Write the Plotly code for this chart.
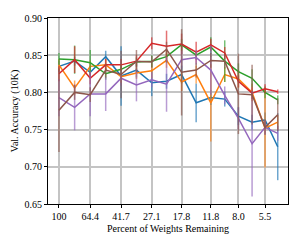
import plotly.graph_objects as go

pct_remaining = [100, 80.2, 64.4, 51.8, 41.7, 33.6, 27.1, 22.0, 17.8, 14.5, 11.8, 9.7, 8.0, 6.6, 5.5, 4.6]
tick_vals = [100, 64.4, 41.7, 27.1, 17.8, 11.8, 8.0, 5.5]
tick_text = ["100", "64.4", "41.7", "27.1", "17.8", "11.8", "8.0", "5.5"]

blue = [0.835, 0.842, 0.827, 0.848, 0.822, 0.830, 0.813, 0.815, 0.824, 0.786, 0.793, 0.791, 0.768, 0.760, 0.763, 0.727]
blue_err = [0.008, 0.006, 0.008, 0.008, 0.040, 0.010, 0.018, 0.010, 0.012, 0.026, 0.010, 0.010, 0.012, 0.010, 0.010, 0.045]
orange = [0.837, 0.806, 0.835, 0.837, 0.821, 0.826, 0.829, 0.843, 0.814, 0.824, 0.786, 0.824, 0.818, 0.800, 0.752, 0.760]
orange_err = [0.008, 0.010, 0.008, 0.008, 0.008, 0.008, 0.010, 0.010, 0.012, 0.012, 0.052, 0.010, 0.012, 0.012, 0.053, 0.010]
green = [0.845, 0.844, 0.840, 0.825, 0.831, 0.841, 0.842, 0.848, 0.864, 0.850, 0.861, 0.842, 0.828, 0.819, 0.800, 0.790]
green_err = [0.008, 0.019, 0.017, 0.008, 0.006, 0.006, 0.008, 0.008, 0.008, 0.006, 0.013, 0.028, 0.011, 0.012, 0.008, 0.006]
red = [0.825, 0.844, 0.819, 0.837, 0.837, 0.842, 0.866, 0.862, 0.865, 0.854, 0.864, 0.853, 0.815, 0.799, 0.805, 0.801]
red_err = [0.010, 0.018, 0.008, 0.008, 0.008, 0.008, 0.008, 0.021, 0.014, 0.014, 0.008, 0.008, 0.008, 0.008, 0.006, 0.003]
purple = [0.793, 0.780, 0.798, 0.798, 0.819, 0.810, 0.817, 0.811, 0.844, 0.847, 0.830, 0.796, 0.765, 0.731, 0.753, 0.745]
purple_err = [0.025, 0.031, 0.030, 0.023, 0.010, 0.022, 0.010, 0.037, 0.012, 0.010, 0.033, 0.012, 0.015, 0.071, 0.010, 0.010]
brown = [0.776, 0.800, 0.797, 0.830, 0.824, 0.842, 0.841, 0.858, 0.827, 0.830, 0.843, 0.842, 0.798, 0.797, 0.753, 0.770]
brown_err = [0.056, 0.010, 0.010, 0.010, 0.032, 0.015, 0.008, 0.010, 0.058, 0.010, 0.010, 0.010, 0.054, 0.040, 0.010, 0.022]

series = [
    (blue, blue_err, "#1f77b4", "rgba(31,119,180,0.65)"),
    (orange, orange_err, "#ff7f0e", "rgba(255,127,14,0.65)"),
    (green, green_err, "#2ca02c", "rgba(44,160,44,0.65)"),
    (red, red_err, "#d62728", "rgba(214,39,40,0.65)"),
    (purple, purple_err, "#9467bd", "rgba(148,103,189,0.65)"),
    (brown, brown_err, "#8c564b", "rgba(140,86,75,0.65)"),
]

fig = go.Figure()
for vals, errs, col, ecol in series:
    fig.add_trace(go.Scatter(
        x=pct_remaining, y=vals, mode="lines",
        line=dict(color=col, width=1.5),
        error_y=dict(type="data", array=errs, visible=True, color=ecol, thickness=1.5, width=0),
        showlegend=False, hoverinfo="skip",
    ))

font_family = "Liberation Serif"
fig.update_layout(
    width=302, height=245,
    margin=dict(l=48, r=14, t=13, b=41),
    plot_bgcolor="white", paper_bgcolor="white",
    font=dict(family=font_family, size=10, color="black"),
)
fig.update_xaxes(
    type="log", range=[2.067, 0.600],
    tickvals=tick_vals, ticktext=tick_text,
    showgrid=True, gridcolor="#c4c4c4", gridwidth=1.5,
    showline=True, linecolor="black", linewidth=1, mirror=True,
    ticks="outside", ticklen=3, tickcolor="black",
    title=dict(text="Percent of Weights Remaining", font=dict(size=10), standoff=3),
    zeroline=False,
)
fig.update_yaxes(
    range=[0.65, 0.90], tickvals=[0.65, 0.70, 0.75, 0.80, 0.85, 0.90],
    ticktext=["0.65", "0.70", "0.75", "0.80", "0.85", "0.90"],
    showgrid=True, gridcolor="#c4c4c4", gridwidth=1.5,
    showline=True, linecolor="black", linewidth=1, mirror=True,
    ticks="outside", ticklen=3, tickcolor="black",
    title=dict(text="Val. Accuracy (10K)", font=dict(size=10), standoff=4),
    zeroline=False,
)
fig.write_html("out.html", config={"displayModeBar": False},
               post_script="document.body.style.margin='0';document.body.style.padding='0';")
